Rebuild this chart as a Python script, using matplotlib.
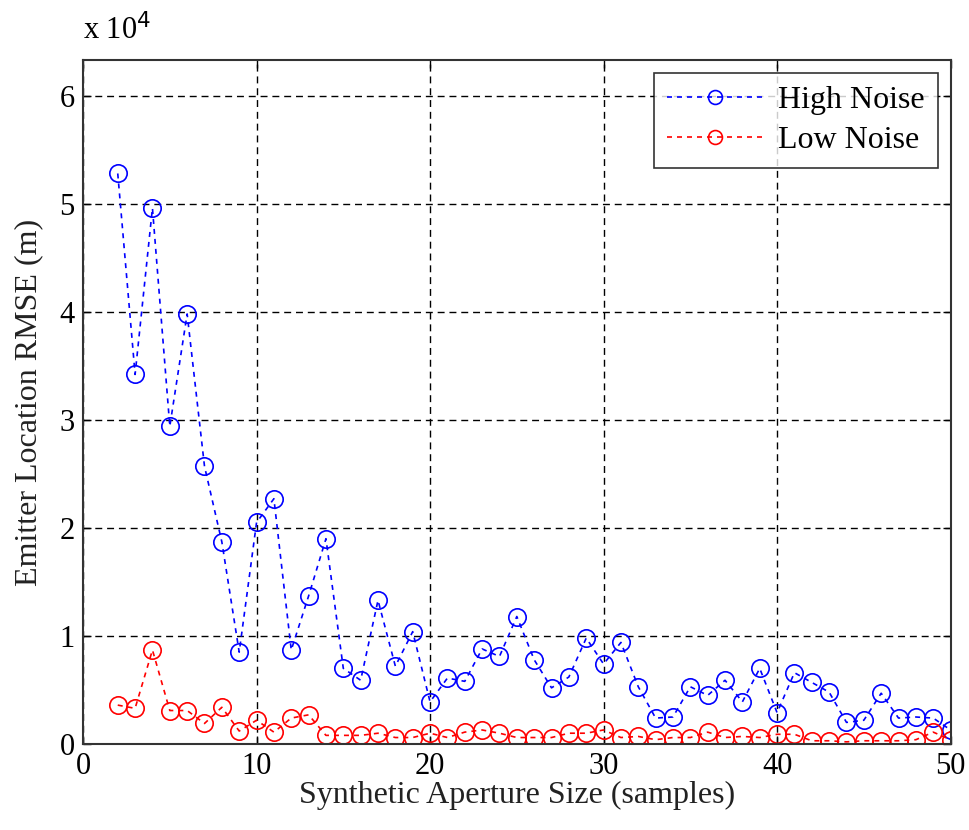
import numpy as np
import matplotlib
import matplotlib.pyplot as plt
matplotlib.use('Agg')

# aperture sizes (samples)
samples = list(range(2, 51))

# RMSE in units of 1e4 m
high_noise = [5.28, 3.42, 4.96, 2.94, 3.98, 2.57, 1.87, 0.85, 2.05, 2.27,
              0.87, 1.37, 1.90, 0.70, 0.59, 1.33, 0.72, 1.04, 0.39, 0.61,
              0.58, 0.88, 0.81, 1.18, 0.78, 0.52, 0.62, 0.98, 0.74, 0.94,
              0.53, 0.24, 0.25, 0.53, 0.45, 0.59, 0.39, 0.70, 0.29, 0.66,
              0.57, 0.48, 0.20, 0.22, 0.47, 0.24, 0.25, 0.24, 0.13]
low_noise = [0.36, 0.33, 0.87, 0.31, 0.31, 0.19, 0.34, 0.12, 0.22, 0.11,
             0.24, 0.27, 0.08, 0.08, 0.08, 0.10, 0.06, 0.06, 0.10, 0.06,
             0.11, 0.13, 0.10, 0.06, 0.06, 0.06, 0.10, 0.10, 0.13, 0.06,
             0.07, 0.04, 0.06, 0.06, 0.11, 0.06, 0.07, 0.06, 0.09, 0.09,
             0.03, 0.03, 0.02, 0.03, 0.03, 0.03, 0.04, 0.11, 0.04]

plt.rcParams['font.family'] = ['Liberation Serif', 'DejaVu Serif']

fig = plt.figure(figsize=(9.69, 8.3), dpi=100)
ax = fig.add_axes([0.0857, 0.1036, 0.8953, 0.8241])

scale = 1e4
style = dict(linestyle='--', marker='o', markersize=12.5, markerfacecolor='none',
             markeredgewidth=1.2, linewidth=1.2, dashes=(3, 3))
ax.plot(samples, np.array(high_noise) * scale, color='#0000ff', label='High Noise', **style)
ax.plot(samples, np.array(low_noise) * scale, color='#ff0000', label='Low Noise', **style)

ax.set_xlim(0, 50)
ax.set_ylim(0, 6.33e4)
ax.set_xticks(range(0, 51, 10))
ax.set_yticks(np.arange(0, 7) * scale)
ax.set_yticklabels([str(i) for i in range(7)])
ax.tick_params(direction='in', labelsize=22, length=6, width=1, top=True, right=True,
               colors='black', pad=6)
ax.grid(True, color='black', linestyle=(0, (5, 3.5)), linewidth=1)
for s in ax.spines.values():
    s.set_linewidth(1.5)
    s.set_color('#333333')

ax.set_xlabel('Synthetic Aperture Size (samples)', fontsize=23, color='#222222', labelpad=0)
ax.set_ylabel('Emitter Location RMSE (m)', fontsize=23, color='#222222', labelpad=12)
ax.text(0.0, 1.02, r'x 10$^{4}$', transform=ax.transAxes, fontsize=22,
        ha='left', va='bottom')

leg = ax.legend(loc='upper right', fontsize=23, frameon=True, fancybox=False,
                handlelength=3.0, borderaxespad=0.4, markerscale=0.8,
                handletextpad=0.5, borderpad=0.4, labelspacing=0.35)
leg.get_frame().set_edgecolor('black')
leg.get_frame().set_linewidth(1.2)

plt.savefig('out.png', dpi=100)
plt.close()
